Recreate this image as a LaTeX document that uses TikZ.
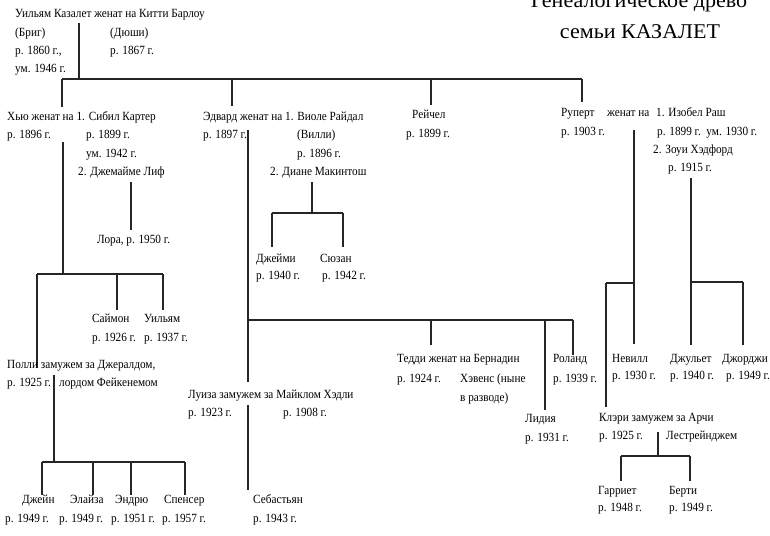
\documentclass[tikz,border=0pt]{standalone}
\usepackage{fontspec}
\setmainfont{Liberation Serif}[FakeStretch=0.9]
\newfontfamily\ttlfont{Liberation Serif}[FakeStretch=1.05]
\begin{document}
\begin{tikzpicture}[x=1pt,y=-1pt,
  txt/.style={inner sep=0pt,anchor=base west,font=\fontsize{12.5}{15}\selectfont,text=black},
  ttl/.style={inner sep=0pt,anchor=base,font=\ttlfont\fontsize{21}{24}\selectfont,text=black},
  lnk/.style={line width=1.25pt,draw=black!85}]
\useasboundingbox (0,0) rectangle (770,535);
\newcommand\lbl[4]{\node[txt] (#1) at (#2,#3) {#4};}
\newcommand\lnk[5]{\coordinate (#1s) at (#2,#3); \coordinate (#1e) at (#4,#5); \draw[lnk] (#1s) -- (#1e);}
% title
\node[ttl] (t1) at (639,8) {Генеалогическое древо};
\node[ttl] (t2) at (640,38) {семьи КАЗАЛЕТ};
% generation 1
\lbl{w}{15}{18}{Уильям Казалет женат на Китти Барлоу}
\lbl{w1}{15}{37}{(Бриг)}
\lbl{w2}{15}{55}{р. 1860 г.,}
\lbl{w3}{15}{72}{ум. 1946 г.}
\lbl{k1}{110}{37}{(Дюши)}
\lbl{k2}{110}{55}{р. 1867 г.}
\lnk{a}{79}{23}{79}{79}
\lnk{b}{62}{79}{582}{79}
\lnk{c}{62}{79}{62}{107}
\lnk{d}{232}{79}{232}{106}
\lnk{e}{431}{79}{431}{105}
\lnk{f}{582}{79}{582}{102}
% Hugh
\lbl{h}{7}{120}{Хью женат на 1. Сибил Картер}
\lbl{h1}{7}{138}{р. 1896 г.}
\lbl{s1}{86}{138}{р. 1899 г.}
\lbl{s2}{86}{157}{ум. 1942 г.}
\lbl{j1}{78}{175}{2. Джемайме Лиф}
\lbl{lo}{97}{243}{Лора, р. 1950 г.}
\lnk{g}{131}{182}{131}{230}
\lnk{hh}{63}{142}{63}{274}
\lnk{hb}{37}{274}{163}{274}
\lnk{hp}{37}{274}{37}{368}
\lnk{hs}{117}{274}{117}{310}
\lnk{hu}{163}{274}{163}{310}
\lbl{sa}{92}{322}{Саймон}
\lbl{sa1}{92}{341}{р. 1926 г.}
\lbl{ui}{144}{322}{Уильям}
\lbl{ui1}{144}{341}{р. 1937 г.}
% Polly
\lbl{po}{7}{368}{Полли замужем за Джералдом,}
\lbl{po1}{7}{386}{р. 1925 г.}
\lbl{ge}{59}{386}{лордом Фейкенемом}
\lnk{pa}{54}{375}{54}{462}
\lnk{pb}{42}{462}{185}{462}
\lnk{p1}{42}{462}{42}{495}
\lnk{p2}{93}{462}{93}{495}
\lnk{p3}{131}{462}{131}{495}
\lnk{p4}{185}{462}{185}{495}
\lbl{c1}{22}{503}{Джейн}
\lbl{c1b}{5}{522}{р. 1949 г.}
\lbl{c2}{70}{503}{Элайза}
\lbl{c2b}{59}{522}{р. 1949 г.}
\lbl{c3}{115}{503}{Эндрю}
\lbl{c3b}{111}{522}{р. 1951 г.}
\lbl{c4}{164}{503}{Спенсер}
\lbl{c4b}{162}{522}{р. 1957 г.}
% Edward
\lbl{ed}{203}{120}{Эдвард женат на 1. Виоле Райдал}
\lbl{ed1}{203}{138}{р. 1897 г.}
\lbl{vi}{297}{138}{(Вилли)}
\lbl{vi1}{297}{157}{р. 1896 г.}
\lbl{di}{270}{175}{2. Диане Макинтош}
\lnk{ea}{312}{182}{312}{213}
\lnk{eb}{272}{213}{343}{213}
\lnk{e1}{272}{213}{272}{247}
\lnk{e2}{343}{213}{343}{247}
\lbl{dj}{256}{262}{Джейми}
\lbl{dj1}{256}{279}{р. 1940 г.}
\lbl{su}{320}{262}{Сюзан}
\lbl{su1}{322}{279}{р. 1942 г.}
\lnk{ev}{248}{130}{248}{382}
\lnk{eh}{248}{320}{573}{320}
\lnk{et}{431}{320}{431}{345}
\lnk{el}{545}{320}{545}{410}
\lnk{er}{573}{320}{573}{355}
\lbl{te}{397}{362}{Тедди женат на Бернадин}
\lbl{te1}{397}{382}{р. 1924 г.}
\lbl{be1}{460}{382}{Хэвенс (ныне}
\lbl{be2}{460}{401}{в разводе)}
\lbl{ro}{553}{362}{Роланд}
\lbl{ro1}{553}{382}{р. 1939 г.}
\lbl{li}{525}{422}{Лидия}
\lbl{li1}{525}{441}{р. 1931 г.}
\lbl{lu}{188}{398}{Луиза замужем за Майклом Хэдли}
\lbl{lu1}{188}{416}{р. 1923 г.}
\lbl{mi}{283}{416}{р. 1908 г.}
\lnk{la}{248}{405}{248}{490}
\lbl{se}{253}{503}{Себастьян}
\lbl{se1}{253}{522}{р. 1943 г.}
% Rachel
\lbl{ra}{412}{118}{Рейчел}
\lbl{ra1}{406}{137}{р. 1899 г.}
% Rupert
\lbl{ru}{561}{116}{Руперт}
\lbl{ru2}{607}{116}{женат на}
\lbl{iz}{656}{116}{1. Изобел Раш}
\lbl{ru1}{561}{135}{р. 1903 г.}
\lbl{iz1}{657}{135}{р. 1899 г.\ \ ум. 1930 г.}
\lbl{zo}{653}{153}{2. Зоуи Хэдфорд}
\lbl{zo1}{668}{171}{р. 1915 г.}
\lnk{ra}{634}{130}{634}{344}
\lnk{rb}{606}{283}{634}{283}
\lnk{rc}{606}{283}{606}{407}
\lnk{za}{691}{178}{691}{345}
\lnk{zb}{691}{282}{743}{282}
\lnk{zc}{743}{282}{743}{345}
\lbl{ne}{612}{362}{Невилл}
\lbl{ne1}{612}{379}{р. 1930 г.}
\lbl{ju}{670}{362}{Джульет}
\lbl{ju1}{670}{379}{р. 1940 г.}
\lbl{jo}{722}{362}{Джорджи}
\lbl{jo1}{726}{379}{р. 1949 г.}
% Clary
\lbl{cl}{599}{421}{Клэри замужем за Арчи}
\lbl{cl1}{599}{439}{р. 1925 г.}
\lbl{ar}{666}{439}{Лестрейнджем}
\lnk{ca}{658}{432}{658}{456}
\lnk{cb}{621}{456}{690}{456}
\lnk{cc}{621}{456}{621}{481}
\lnk{cd}{690}{456}{690}{481}
\lbl{ha}{598}{494}{Гарриет}
\lbl{ha1}{598}{511}{р. 1948 г.}
\lbl{bt}{669}{494}{Берти}
\lbl{bt1}{669}{511}{р. 1949 г.}
\end{tikzpicture}
\end{document}
